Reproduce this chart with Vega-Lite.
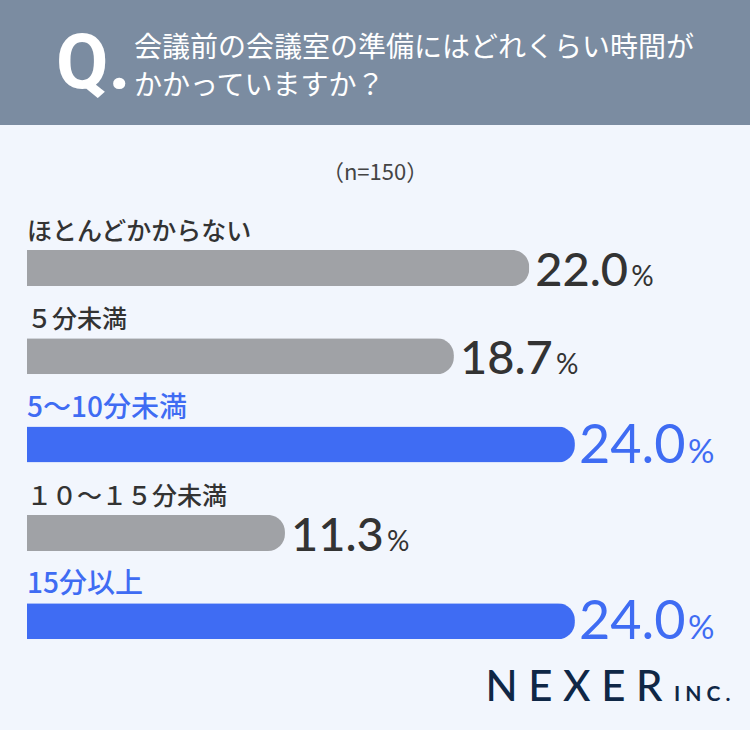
{
  "$schema": "https://vega.github.io/schema/vega-lite/v6.json",
  "background": "#f2f6fd",
  "padding": 0,
  "spacing": 0,
  "title": {"text": "Q.", "anchor": "start", "frame": "group", "dx": 56, "offset": -104, "fontSize": 76, "font": "Roboto", "fontWeight": 700, "color": "#ffffff"},
  "config": {"view": {"stroke": null}, "concat": {"spacing": 0}},
  "vconcat": [
    {
      "width": 750,
      "height": 125,
      "data": {"values": [{"part": "header"}]},
      "mark": {"type": "rect", "color": "#7b8ca1"},
      "encoding": {},
      "title": {
        "text": ["会議前の会議室の準備にはどれくらい時間が", "かかっていますか？"],
        "anchor": "start", "frame": "group", "dx": 134, "offset": -101,
        "fontSize": 28, "lineHeight": 38, "font": "Noto Sans CJK JP", "fontWeight": 400, "color": "#ffffff"
      }
    },
    {
      "width": 750,
      "height": 605,
      "title": {"text": "（n=150）", "anchor": "middle", "frame": "group", "offset": -60, "fontSize": 22, "font": "Noto Sans CJK JP", "fontWeight": 400, "color": "#444444"},
      "data": {"values": [
        {"category": "ほとんどかからない", "pct": 22.0},
        {"category": "５分未満", "pct": 18.7},
        {"category": "5〜10分未満", "pct": 24.0},
        {"category": "１０〜１５分未満", "pct": 11.3},
        {"category": "15分以上", "pct": 24.0}
      ]},
      "layer": [
        {
          "mark": {"type": "bar", "height": 36, "cornerRadiusEnd": 17},
          "encoding": {
            "x": {"field": "pct", "type": "quantitative",
              "scale": {"domain": [-1.1826, 31.67], "nice": false},
              "axis": {"orient": "bottom", "domain": false, "ticks": false, "labels": false, "grid": false,
                "title": "N E X E R", "titleFont": "Lato", "titleFontSize": 42, "titleFontWeight": 500, "titleColor": "#0f2746",
                "titleAlign": "right", "titleAnchor": "end", "titleX": 662, "titleY": -30, "titleBaseline": "alphabetic"}},
            "y": {"field": "category", "type": "nominal",
              "scale": {"type": "band", "domain": ["ほとんどかからない", "５分未満", "5〜10分未満", "１０〜１５分未満", "15分以上"], "paddingInner": 0, "paddingOuter": 0.9258, "align": 0.6046},
              "axis": {"orient": "right", "domain": false, "ticks": false, "labels": false, "grid": false,
                "title": "I N C .", "titleAngle": 0, "titleFont": "Lato", "titleFontSize": 21, "titleFontWeight": 700, "titleColor": "#0f2746",
                "titleAlign": "right", "titleBaseline": "alphabetic", "titleX": -20, "titleY": 575}},
            "color": {"condition": {"test": "datum.pct >= 24", "value": "#3f6cf3"}, "value": "#a0a2a6"}
          }
        },
        {
          "mark": {"type": "text", "align": "left", "baseline": "alphabetic", "font": "Noto Sans CJK JP", "fontWeight": 500},
          "encoding": {
            "x": {"datum": 0, "type": "quantitative"},
            "y": {"field": "category", "type": "nominal", "bandPosition": 0.183},
            "text": {"field": "category"},
            "color": {"condition": {"test": "datum.pct >= 24", "value": "#3f6cf3"}, "value": "#333333"},
            "size": {"condition": {"test": "datum.pct >= 24", "value": 28}, "value": 25}
          }
        },
        {
          "transform": [{"filter": "datum.pct < 24"}],
          "mark": {"type": "text", "align": "left", "baseline": "alphabetic", "font": "Lato", "fontWeight": 500, "fontSize": 47, "dx": 6, "color": "#333333"},
          "encoding": {
            "x": {"field": "pct", "type": "quantitative"},
            "y": {"field": "category", "type": "nominal", "bandPosition": 0.704},
            "text": {"field": "pct", "type": "quantitative", "format": ".1f"}
          }
        },
        {
          "transform": [{"filter": "datum.pct >= 24"}],
          "mark": {"type": "text", "align": "left", "baseline": "alphabetic", "font": "Lato", "fontWeight": 400, "fontSize": 54, "dx": 4, "color": "#3f6cf3"},
          "encoding": {
            "x": {"field": "pct", "type": "quantitative"},
            "y": {"field": "category", "type": "nominal", "bandPosition": 0.704},
            "text": {"field": "pct", "type": "quantitative", "format": ".1f"}
          }
        },
        {
          "transform": [{"filter": "datum.pct < 24"}],
          "mark": {"type": "text", "align": "left", "baseline": "alphabetic", "font": "Lato", "fontWeight": 400, "fontSize": 28, "dx": 102, "color": "#333333", "text": "%"},
          "encoding": {
            "x": {"field": "pct", "type": "quantitative"},
            "y": {"field": "category", "type": "nominal", "bandPosition": 0.704}
          }
        },
        {
          "transform": [{"filter": "datum.pct >= 24"}],
          "mark": {"type": "text", "align": "left", "baseline": "alphabetic", "font": "Lato", "fontWeight": 400, "fontSize": 33, "dx": 113, "color": "#3f6cf3", "text": "%"},
          "encoding": {
            "x": {"field": "pct", "type": "quantitative"},
            "y": {"field": "category", "type": "nominal", "bandPosition": 0.704}
          }
        }
      ]
    }
  ]
}
